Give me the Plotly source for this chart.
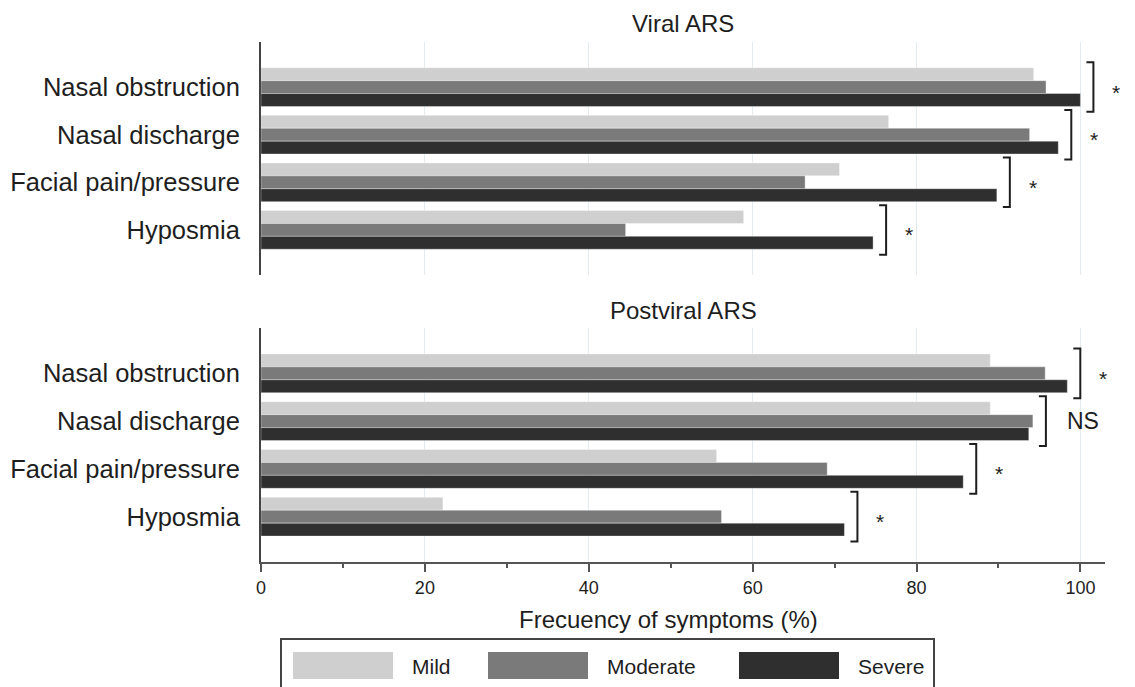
import plotly.graph_objects as go

# ---------------- data ----------------
symptoms = ["Nasal obstruction", "Nasal discharge", "Facial pain/pressure", "Hyposmia"]
severity = ["Mild", "Moderate", "Severe"]

viral_mild = [94.3, 76.6, 70.6, 58.9]
viral_moderate = [95.8, 93.8, 66.4, 44.5]
viral_severe = [100.0, 97.3, 89.8, 74.7]
viral_sig = ["*", "*", "*", "*"]

postviral_mild = [89.0, 89.0, 55.6, 22.2]
postviral_moderate = [95.7, 94.2, 69.1, 56.2]
postviral_severe = [98.4, 93.7, 85.7, 71.2]
postviral_sig = ["*", "NS", "*", "*"]

panel_titles = ["Viral ARS", "Postviral ARS"]
x_ticks = [0, 20, 40, 60, 80, 100]
x_title = "Frecuency of symptoms (%)"

colors = ["#cfcfcf", "#7a7a7a", "#2f2f2f"]
FONT = "Liberation Sans, Arial, Helvetica, sans-serif"
TXT = "#1e1e1e"

W, H = 1135, 687
L, R, T, B = 261, 30, 42, 125
PW, PH = W - L - R, H - T - B
XMAX = 103
YR = [3.948, -0.948]  # reversed categorical range


def px2x(px):
    return (px - L) / PW


def px2y(py):
    return (H - B - py) / PH


dom_top = [px2y(275), 1.0]
dom_bot = [0.0, px2y(328)]

fig = go.Figure()

panels = [
    ("y", [viral_mild, viral_moderate, viral_severe], viral_sig, dom_top),
    ("y2", [postviral_mild, postviral_moderate, postviral_severe], postviral_sig, dom_bot),
]

for axname, series, sig, dom in panels:
    xa = "x" if axname == "y" else "x2"
    for name, vals, col in zip(severity, series, colors):
        fig.add_trace(go.Bar(
            y=symptoms, x=vals, orientation="h", name=name,
            marker=dict(color=col, line=dict(width=0.6, color="rgba(255,255,255,0.6)")),
            xaxis=xa, yaxis=axname, showlegend=False, hoverinfo="x+name",
        ))

    # significance brackets
    def ypaper(c, d=dom):
        return d[0] + (YR[0] - c) / (YR[0] - YR[1]) * (d[1] - d[0])

    for i, s in enumerate(sig):
        mx = max(series[0][i], series[1][i], series[2][i])
        bx = mx / XMAX + 13 / PW
        y0 = ypaper(i - 0.52)
        y1 = ypaper(i + 0.52)
        serif = 7 / PW
        fig.add_shape(type="path", xref="paper", yref="paper",
                      path=f"M {bx - serif} {y0} L {bx} {y0} L {bx} {y1} L {bx - serif} {y1}",
                      line=dict(color="#1e1e1e", width=2))
        if s == "*":
            fig.add_annotation(x=bx + 23 / PW, y=ypaper(i), xref="paper", yref="paper",
                               text="*", showarrow=False, xanchor="center", yanchor="middle",
                               yshift=-5, font=dict(family=FONT, size=21, color=TXT))
        else:
            fig.add_annotation(x=bx + 19 / PW, y=ypaper(i), xref="paper", yref="paper",
                               text=s, showarrow=False, xanchor="left", yanchor="middle",
                               font=dict(family=FONT, size=23, color=TXT))

grid = "#e2ebef"
common_x = dict(range=[0, XMAX], showgrid=True, gridcolor=grid, gridwidth=1,
                tickvals=x_ticks, zeroline=False, fixedrange=True, automargin=False)
ycommon = dict(range=YR, showline=True, linecolor="#444444", linewidth=2, showgrid=False,
               ticks="", ticklabelstandoff=14, automargin=False,
               tickfont=dict(family=FONT, size=25.5, color=TXT), fixedrange=True)
fig.update_layout(
    width=W, height=H,
    margin=dict(l=L, r=R, t=T, b=B, autoexpand=False),
    paper_bgcolor="white", plot_bgcolor="white",
    barmode="group", bargap=0.1875, bargroupgap=0,
    font=dict(family=FONT, color=TXT),
    xaxis=dict(**common_x, domain=[0, 1], anchor="y", showline=False, showticklabels=False, ticks=""),
    xaxis2=dict(**common_x, domain=[0, 1], anchor="y2", matches="x", showline=True,
                linecolor="#555555", linewidth=2, ticks="outside", ticklen=8, tickwidth=1.5,
                tickcolor="#555555", tickfont=dict(family=FONT, size=18, color=TXT),
                minor=dict(dtick=10, tick0=0, ticks="outside", ticklen=4, tickwidth=1.5,
                           tickcolor="#555555", showgrid=False)),
    yaxis=dict(**ycommon, domain=dom_top, anchor="x"),
    yaxis2=dict(**ycommon, domain=dom_bot, anchor="x2"),
)

# panel titles
fig.add_annotation(x=px2x(683), y=px2y(24), xref="paper", yref="paper", text=panel_titles[0],
                   showarrow=False, xanchor="center", yanchor="middle",
                   font=dict(family=FONT, size=24, color=TXT))
fig.add_annotation(x=px2x(683), y=px2y(311), xref="paper", yref="paper", text=panel_titles[1],
                   showarrow=False, xanchor="center", yanchor="middle",
                   font=dict(family=FONT, size=24, color=TXT))

# x axis title
fig.add_annotation(x=px2x(668), y=px2y(619), xref="paper", yref="paper", text=x_title,
                   showarrow=False, xanchor="center", yanchor="middle",
                   font=dict(family=FONT, size=24, color=TXT))

# legend box (drawn manually for large swatches)
fig.add_shape(type="rect", xref="paper", yref="paper",
              x0=px2x(281), x1=px2x(934), y0=px2y(639), y1=px2y(720),
              line=dict(color="#444444", width=2), fillcolor="rgba(0,0,0,0)")
sw_x = [293, 488, 739]
tx_x = [410, 605, 856]
for name, col, sx, tx in zip(severity, colors, sw_x, tx_x):
    fig.add_shape(type="rect", xref="paper", yref="paper",
                  x0=px2x(sx), x1=px2x(sx + 100), y0=px2y(652), y1=px2y(679),
                  line=dict(width=0), fillcolor=col)
    fig.add_annotation(x=px2x(tx), y=px2y(666), xref="paper", yref="paper", text=name,
                       showarrow=False, xanchor="left", yanchor="middle",
                       font=dict(family=FONT, size=21, color=TXT))

fig.write_html("out.html", config={"displayModeBar": False},
               post_script="document.body.style.margin='0';document.body.style.overflow='hidden';")
